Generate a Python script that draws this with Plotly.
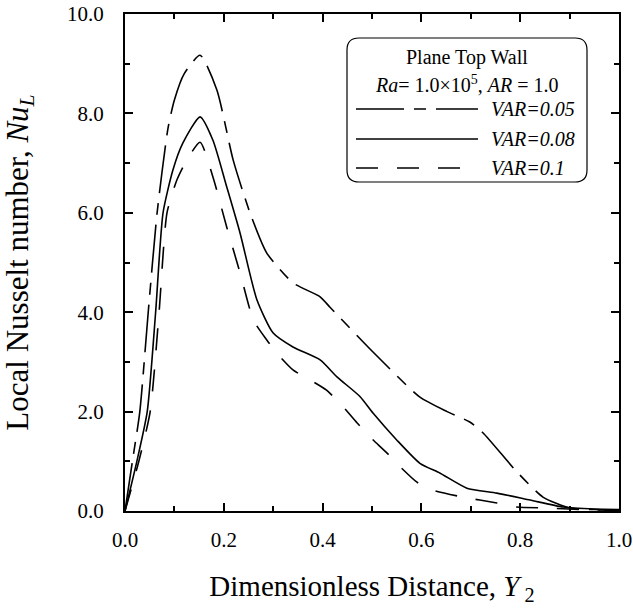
import plotly.graph_objects as go

# VAR = 0.05 (long dash - short dash)
x_005 = [0.0, 0.015, 0.03, 0.047, 0.065, 0.087, 0.1, 0.12, 0.152, 0.186, 0.219, 0.253, 0.287, 0.34, 0.395,
         0.415, 0.502, 0.597, 0.652, 0.698, 0.725, 0.793, 0.846, 0.9, 0.95, 1.0]
y_005 = [0.0, 1.0, 2.0, 4.0, 6.0, 7.7, 8.27, 8.8, 9.17, 8.47, 7.06, 6.0, 5.19, 4.59, 4.31,
         4.1, 3.2, 2.29, 2.0, 1.79, 1.57, 0.79, 0.28, 0.06, 0.03, 0.02]

# VAR = 0.08 (solid)
x_008 = [0.0, 0.024, 0.045, 0.062, 0.077, 0.097, 0.117, 0.152, 0.178, 0.206, 0.233, 0.267, 0.3, 0.34, 0.395,
         0.429, 0.476, 0.502, 0.55, 0.597, 0.638, 0.692, 0.753, 0.82, 0.887, 0.95, 1.0]
y_008 = [0.0, 1.0, 2.0, 4.0, 6.0, 6.86, 7.4, 7.93, 7.46, 6.52, 5.59, 4.25, 3.58, 3.3, 3.04,
         2.7, 2.3, 1.97, 1.43, 0.96, 0.76, 0.46, 0.36, 0.22, 0.08, 0.04, 0.03]

# VAR = 0.1 (dashed)
x_01 = [0.0, 0.028, 0.051, 0.069, 0.085, 0.105, 0.125, 0.152, 0.178, 0.206, 0.233, 0.26, 0.287, 0.307, 0.34,
        0.374, 0.408, 0.442, 0.47, 0.496, 0.53, 0.557, 0.591, 0.623, 0.684, 0.753, 0.793, 0.854, 0.92, 1.0]
y_01 = [0.0, 1.0, 2.0, 4.0, 6.0, 6.66, 7.06, 7.42, 6.72, 5.71, 4.79, 3.84, 3.44, 3.18, 2.84,
        2.64, 2.43, 2.09, 1.77, 1.49, 1.17, 0.89, 0.58, 0.42, 0.28, 0.16, 0.08, 0.06, 0.03, 0.01]

series_names = ["VAR=0.05", "VAR=0.08", "VAR=0.1"]
x_ticks = [0.0, 0.2, 0.4, 0.6, 0.8, 1.0]
y_ticks = [0.0, 2.0, 4.0, 6.0, 8.0, 10.0]

FONT = "Liberation Serif, Times New Roman, serif"
dash_005 = "48px,10px,12px,10px"
dash_01 = "22px,19px"

fig = go.Figure()
styles = [(x_005, y_005, dash_005), (x_008, y_008, "solid"), (x_01, y_01, dash_01)]
for (xs, ys, d), name in zip(styles, series_names):
    fig.add_trace(go.Scatter(x=xs, y=ys, mode="lines", name=name, showlegend=False,
                             line=dict(color="black", width=1.6, dash=d, shape="spline", smoothing=0.6)))

axis_common = dict(showline=True, linecolor="black", linewidth=2, mirror="ticks",
                   ticks="inside", ticklen=8, tickwidth=1.5, tickcolor="black",
                   showgrid=False, zeroline=False, automargin=False,
                   tickfont=dict(family=FONT, size=21, color="black"),
                   minor=dict(ticks="inside", ticklen=5, tickwidth=1.5, tickcolor="black", showgrid=False))

fig.update_xaxes(range=[0, 1], tickvals=x_ticks, ticktext=[f"{v:.1f}" for v in x_ticks],
                 minor_dtick=0.1, minor_tick0=0, ticklabelstandoff=9,
                 title=dict(text="Dimensionless Distance, <i>Y</i><sub> 2</sub>",
                            font=dict(family=FONT, size=29, color="black"), standoff=24),
                 **axis_common)
fig.update_yaxes(range=[0, 10], tickvals=y_ticks, ticktext=[f"{v:.1f}" for v in y_ticks],
                 minor_dtick=1, minor_tick0=0, ticklabelstandoff=15,
                 title=dict(text="Local Nusselt number, <i>Nu</i><sub><i>L</i></sub>",
                            font=dict(family=FONT, size=31, color="black"), standoff=45),
                 **axis_common)

# plot area at page px x 125..619, y 14..511
W, H = 494.0, 497.0
def px(xp):
    return (xp - 125) / W
def py(yp):
    return (511 - yp) / H
x0, x1, y0, y1 = px(347), px(587), py(182), py(38)
rx, ry = 12 / W, 12 / H
path = (f"M {x0+rx},{y1} L {x1-rx},{y1} Q {x1},{y1} {x1},{y1-ry} "
        f"L {x1},{y0+ry} Q {x1},{y0} {x1-rx},{y0} L {x0+rx},{y0} Q {x0},{y0} {x0},{y0+ry} "
        f"L {x0},{y1-ry} Q {x0},{y1} {x0+rx},{y1} Z")
fig.add_shape(type="path", path=path, xref="paper", yref="paper",
              line=dict(color="black", width=1.2), fillcolor="white", layer="above")

fig.add_annotation(x=(x0 + x1) / 2, y=py(57), xref="paper", yref="paper", text="Plane Top Wall",
                   xanchor="center", yanchor="middle",
                   showarrow=False, font=dict(family=FONT, size=20, color="black"))
fig.add_annotation(x=(x0 + x1) / 2, y=py(84), xref="paper", yref="paper",
                   text="<i>Ra</i>= 1.0×10<sup>5</sup>, <i>AR</i> = 1.0",
                   xanchor="center", yanchor="middle",
                   showarrow=False, font=dict(family=FONT, size=20, color="black"))
leg_y = [109, 139, 168]
leg_dash = [dash_005, "solid", dash_01]
for name, ly, d in zip(series_names, leg_y, leg_dash):
    fig.add_shape(type="line", xref="paper", yref="paper", x0=px(356), x1=px(478), y0=py(ly), y1=py(ly),
                  line=dict(color="black", width=1.6, dash=d), layer="above")
    fig.add_annotation(x=px(489), y=py(ly), xref="paper", yref="paper", text=f"<i>{name}</i>",
                       xanchor="left", yanchor="middle",
                       showarrow=False, font=dict(family=FONT, size=20, color="black"))

fig.update_layout(width=633, height=608,
                  margin=dict(l=125, r=14, t=14, b=97),
                  paper_bgcolor="white", plot_bgcolor="white", showlegend=False)
fig.write_html("out.html", config={"displayModeBar": False},
               post_script="document.body.style.margin='0';document.body.style.overflow='hidden';")
